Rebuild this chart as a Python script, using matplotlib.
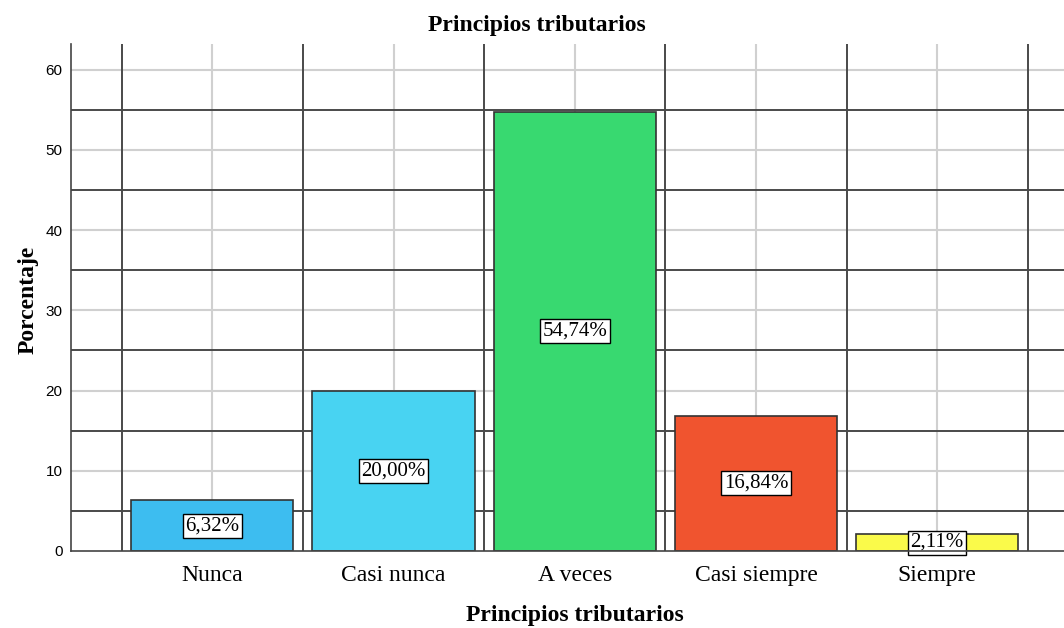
import matplotlib
matplotlib.use("Agg")
import matplotlib.pyplot as plt
import numpy as np

categories = ["Nunca", "Casi nunca", "A veces", "Casi siempre", "Siempre"]
values = [6.32, 20.00, 54.74, 16.84, 2.11]
labels = ["6,32%", "20,00%", "54,74%", "16,84%", "2,11%"]
colors = ["#3DBDF0", "#48D3F2", "#38D970", "#F0542F", "#FAFA4A"]
yticks = [0, 10, 20, 30, 40, 50, 60]

fig = plt.figure(figsize=(10.64, 6.28), dpi=100)
ax = fig.add_axes([71/1064, 1-551/628, 1-71/1064, (551-44)/628])

x = np.arange(len(categories))
ax.set_xlim(-0.78, 4.70)
ax.set_ylim(0, 63.2)

# grid
for yv in np.arange(10, 61, 10):
    ax.axhline(yv, color="#d0d0d0", lw=1.5, zorder=0)
for yv in np.arange(5, 61, 10):
    ax.axhline(yv, color="#4a4a4a", lw=1.4, zorder=0.5)
for xv in x:
    ax.axvline(xv, color="#d0d0d0", lw=1.5, zorder=0)
for xv in np.arange(-0.5, 5.0, 1.0):
    ax.axvline(xv, color="#4a4a4a", lw=1.4, zorder=0.5)

bars = ax.bar(x, values, width=0.895, color=colors, edgecolor="#333333", linewidth=1.2, zorder=2)
for xi, v, lab in zip(x, values, labels):
    ax.text(xi, v/2, lab, ha="center", va="center", fontsize=15, family="Liberation Serif",
            bbox=dict(boxstyle="square,pad=0.12", fc="white", ec="black", lw=1.0), zorder=3)

ax.set_xticks(x)
ax.set_xticklabels(categories, fontsize=17, family="Liberation Serif")
ax.set_yticks(yticks)
ax.set_yticklabels([str(t) for t in yticks], fontsize=11, family="Liberation Sans")
ax.tick_params(axis="x", length=0, pad=10)
ax.tick_params(axis="y", length=0, pad=6)

for s in ["top", "right"]:
    ax.spines[s].set_visible(False)
ax.spines["left"].set_color("#444444")
ax.spines["bottom"].set_color("#444444")
ax.spines["left"].set_linewidth(1.2)
ax.spines["bottom"].set_linewidth(1.2)
ax.spines["left"].set_zorder(4)
ax.spines["bottom"].set_zorder(4)

fig.text(537/1064, 1-26/628, "Principios tributarios", ha="center", va="center",
         fontsize=17, fontweight="bold", family="Liberation Serif")
fig.text(575/1064, 1-615/628, "Principios tributarios", ha="center", va="center",
         fontsize=17, fontweight="bold", family="Liberation Serif")
fig.text(28/1064, 1-300/628, "Porcentaje", ha="center", va="center", rotation=90,
         fontsize=17, fontweight="bold", family="Liberation Serif")

fig.savefig("out.png", dpi=100)
